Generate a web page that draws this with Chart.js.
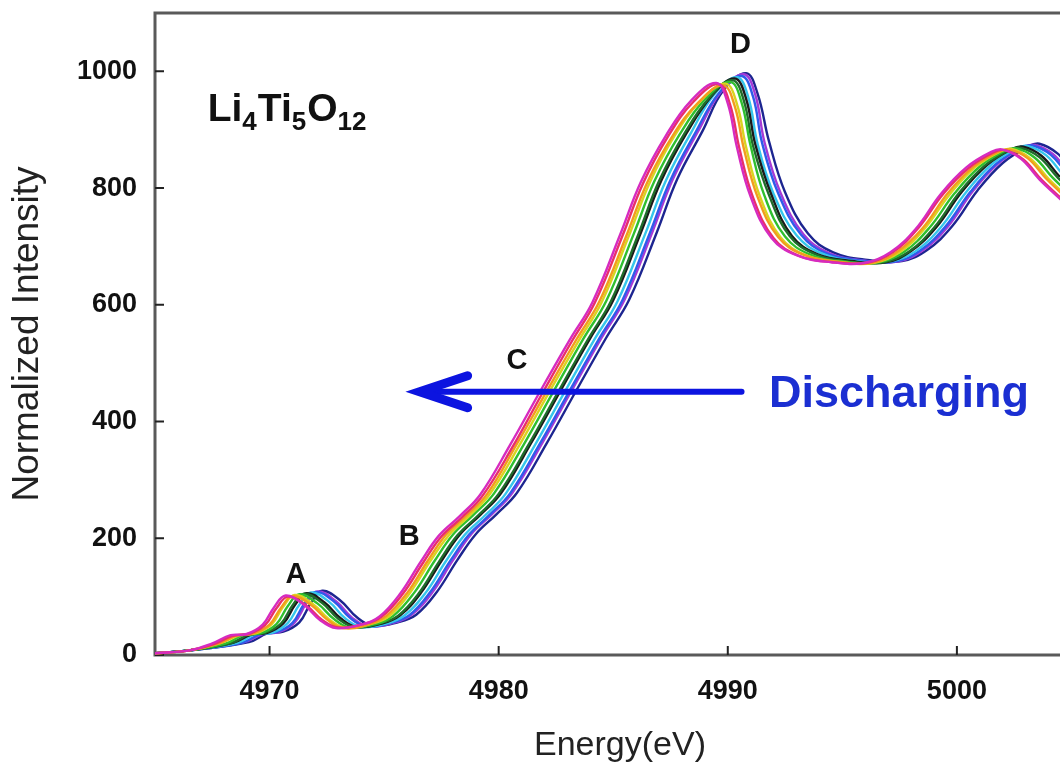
<!DOCTYPE html>
<html>
<head>
<meta charset="utf-8">
<script src="https://cdn.jsdelivr.net/npm/chart.js@4.4.1/dist/chart.umd.min.js"></script>
<style>
  html, body { margin: 0; padding: 0; background: #fff; overflow: hidden; }
  #wrap { width: 1060px; height: 772px; }
</style>
</head>
<body>
<div id="wrap"><canvas id="xanes"></canvas></div>
<script>
// Ti K-edge XANES of Li4Ti5O12 during discharge, 11 scans (left = most discharged)
const energy01 = [4964.0, 4965.0, 4966.5, 4967.5, 4968.3, 4969.0, 4969.7, 4970.2, 4970.7, 4971.5, 4972.2, 4972.9, 4974.0, 4974.8, 4975.7, 4976.6, 4977.4, 4978.3, 4979.2, 4980.5, 4981.8, 4983.1, 4984.1, 4985.3, 4986.2, 4987.3, 4988.4, 4989.5, 4990.0, 4990.4, 4991.0, 4991.9, 4993.0, 4994.5, 4996.0, 4997.1, 4998.2, 4999.3, 5000.4, 5001.5, 5002.0, 5002.8, 5003.6, 5004.6];
const energy02 = [4964.0, 4965.0, 4966.5, 4967.6, 4968.4, 4969.1, 4969.8, 4970.3, 4970.8, 4971.6, 4972.3, 4973.0, 4974.1, 4974.9, 4975.8, 4976.7, 4977.5, 4978.4, 4979.3, 4980.6, 4981.9, 4983.2, 4984.2, 4985.4, 4986.3, 4987.4, 4988.5, 4989.6, 4990.1, 4990.5, 4991.1, 4992.0, 4993.1, 4994.6, 4996.1, 4997.2, 4998.3, 4999.4, 5000.5, 5001.6, 5002.1, 5002.9, 5003.7, 5004.7];
const energy03 = [4964.0, 4965.0, 4966.5, 4967.8, 4968.6, 4969.3, 4970.0, 4970.5, 4971.0, 4971.8, 4972.5, 4973.2, 4974.3, 4975.1, 4976.0, 4976.9, 4977.7, 4978.6, 4979.5, 4980.8, 4982.1, 4983.4, 4984.4, 4985.6, 4986.5, 4987.6, 4988.7, 4989.8, 4990.3, 4990.7, 4991.3, 4992.2, 4993.3, 4994.8, 4996.3, 4997.4, 4998.5, 4999.6, 5000.7, 5001.8, 5002.3, 5003.1, 5003.9, 5004.9];
const energy04 = [4964.0, 4965.0, 4966.5, 4967.9, 4968.7, 4969.4, 4970.1, 4970.6, 4971.1, 4971.9, 4972.6, 4973.3, 4974.4, 4975.2, 4976.1, 4977.0, 4977.8, 4978.7, 4979.6, 4980.9, 4982.2, 4983.5, 4984.5, 4985.7, 4986.6, 4987.7, 4988.8, 4989.9, 4990.4, 4990.8, 4991.4, 4992.3, 4993.4, 4994.9, 4996.4, 4997.5, 4998.6, 4999.7, 5000.8, 5001.9, 5002.4, 5003.2, 5004.0, 5005.0];
const energy05 = [4964.0, 4965.0, 4966.5, 4968.1, 4968.9, 4969.6, 4970.3, 4970.8, 4971.3, 4972.1, 4972.8, 4973.5, 4974.6, 4975.4, 4976.3, 4977.2, 4978.0, 4978.9, 4979.8, 4981.1, 4982.4, 4983.7, 4984.7, 4985.9, 4986.8, 4987.9, 4989.0, 4990.1, 4990.6, 4991.0, 4991.6, 4992.5, 4993.6, 4995.1, 4996.6, 4997.7, 4998.8, 4999.9, 5001.0, 5002.1, 5002.6, 5003.4, 5004.2, 5005.2];
const energy06 = [4964.0, 4965.0, 4966.5, 4968.3, 4969.1, 4969.8, 4970.5, 4971.0, 4971.5, 4972.3, 4973.0, 4973.7, 4974.8, 4975.6, 4976.5, 4977.4, 4978.2, 4979.1, 4980.0, 4981.3, 4982.6, 4983.9, 4984.9, 4986.1, 4987.0, 4988.1, 4989.2, 4990.2, 4990.7, 4991.1, 4991.8, 4992.7, 4993.8, 4995.3, 4996.8, 4997.9, 4999.0, 5000.1, 5001.2, 5002.3, 5002.8, 5003.6, 5004.4, 5005.4];
const energy07 = [4964.0, 4965.0, 4966.5, 4968.4, 4969.2, 4969.9, 4970.6, 4971.1, 4971.6, 4972.4, 4973.1, 4973.8, 4974.9, 4975.7, 4976.6, 4977.5, 4978.3, 4979.2, 4980.1, 4981.4, 4982.7, 4984.0, 4985.0, 4986.2, 4987.1, 4988.2, 4989.3, 4990.3, 4990.8, 4991.2, 4991.9, 4992.8, 4993.9, 4995.4, 4996.9, 4998.0, 4999.1, 5000.2, 5001.3, 5002.4, 5002.9, 5003.7, 5004.5, 5005.5];
const energy08 = [4964.0, 4965.0, 4966.5, 4968.6, 4969.4, 4970.1, 4970.8, 4971.3, 4971.8, 4972.6, 4973.3, 4974.0, 4975.1, 4975.9, 4976.8, 4977.7, 4978.5, 4979.4, 4980.3, 4981.6, 4982.9, 4984.2, 4985.2, 4986.4, 4987.3, 4988.4, 4989.4, 4990.4, 4990.9, 4991.3, 4992.0, 4993.0, 4994.1, 4995.6, 4997.1, 4998.2, 4999.3, 5000.4, 5001.5, 5002.6, 5003.1, 5003.9, 5004.7, 5005.7];
const energy09 = [4964.0, 4965.0, 4966.5, 4968.8, 4969.6, 4970.3, 4971.0, 4971.5, 4972.0, 4972.8, 4973.5, 4974.2, 4975.3, 4976.1, 4977.0, 4977.9, 4978.7, 4979.6, 4980.5, 4981.8, 4983.1, 4984.4, 4985.4, 4986.6, 4987.5, 4988.6, 4989.6, 4990.6, 4991.1, 4991.5, 4992.2, 4993.2, 4994.3, 4995.8, 4997.3, 4998.4, 4999.5, 5000.6, 5001.7, 5002.8, 5003.3, 5004.1, 5004.9, 5005.9];
const energy10 = [4964.0, 4965.0, 4966.5, 4968.9, 4969.7, 4970.4, 4971.1, 4971.6, 4972.1, 4972.9, 4973.6, 4974.3, 4975.4, 4976.2, 4977.1, 4978.0, 4978.8, 4979.7, 4980.6, 4981.9, 4983.2, 4984.5, 4985.5, 4986.7, 4987.6, 4988.7, 4989.7, 4990.7, 4991.2, 4991.6, 4992.3, 4993.3, 4994.4, 4995.9, 4997.4, 4998.5, 4999.6, 5000.7, 5001.8, 5002.9, 5003.4, 5004.2, 5005.0, 5006.0];
const energy11 = [4964.0, 4965.0, 4966.5, 4969.1, 4969.9, 4970.6, 4971.3, 4971.8, 4972.3, 4973.1, 4973.8, 4974.5, 4975.6, 4976.4, 4977.3, 4978.2, 4979.0, 4979.9, 4980.8, 4982.1, 4983.4, 4984.7, 4985.7, 4986.9, 4987.8, 4988.9, 4989.8, 4990.8, 4991.3, 4991.8, 4992.5, 4993.5, 4994.6, 4996.1, 4997.6, 4998.7, 4999.8, 5000.9, 5002.0, 5003.1, 5003.6, 5004.4, 5005.2, 5006.2];

const intensity01 = [0, 3, 8, 20, 34, 36, 52, 82, 102, 86, 60, 46, 52, 66, 105, 160, 205, 238, 275, 360, 451, 540, 605, 720, 810, 890, 950, 980, 945, 870, 785, 715, 685, 673, 672, 690, 730, 790, 835, 862, 866, 850, 815, 778];
const intensity02 = [0, 3, 8, 19, 33, 36, 51, 80, 100, 85, 60, 47, 53, 66, 104, 158, 203, 236, 273, 356, 448, 538, 604, 718, 808, 889, 948, 978, 943, 869, 784, 714, 684, 673, 672, 690, 731, 790, 834, 861, 865, 849, 814, 777];
const intensity03 = [0, 3, 8, 20, 34, 37, 52, 81, 101, 86, 61, 46, 52, 67, 106, 161, 206, 239, 276, 362, 452, 541, 606, 721, 811, 890, 946, 976, 941, 868, 785, 716, 686, 674, 672, 691, 731, 791, 836, 862, 866, 851, 816, 779];
const intensity04 = [0, 3, 8, 21, 34, 37, 53, 83, 103, 87, 61, 47, 53, 66, 105, 160, 204, 238, 275, 359, 450, 539, 605, 720, 810, 891, 949, 979, 944, 870, 786, 716, 685, 673, 672, 690, 731, 790, 836, 863, 867, 851, 816, 779];
const intensity05 = [0, 3, 8, 20, 35, 37, 53, 84, 104, 88, 62, 47, 53, 67, 106, 161, 206, 240, 277, 361, 452, 542, 607, 722, 812, 892, 952, 982, 947, 872, 787, 717, 686, 674, 673, 691, 732, 791, 837, 864, 868, 852, 817, 780];
const intensity06 = [0, 3, 8, 20, 35, 38, 54, 85, 105, 89, 62, 48, 54, 67, 105, 160, 205, 239, 276, 360, 451, 541, 606, 721, 812, 893, 955, 985, 950, 873, 788, 718, 687, 674, 673, 691, 732, 792, 838, 865, 869, 853, 818, 781];
const intensity07 = [0, 3, 8, 21, 35, 38, 54, 85, 106, 90, 63, 48, 54, 68, 106, 161, 206, 240, 277, 362, 453, 543, 608, 723, 813, 894, 958, 988, 953, 875, 789, 718, 687, 675, 673, 692, 733, 793, 839, 867, 871, 855, 819, 782];
const intensity08 = [0, 3, 8, 21, 36, 38, 55, 86, 107, 91, 63, 48, 54, 68, 106, 161, 205, 239, 276, 361, 452, 542, 607, 722, 813, 895, 960, 990, 955, 876, 790, 719, 688, 675, 674, 692, 733, 793, 840, 868, 872, 856, 820, 783];
const intensity09 = [0, 3, 8, 21, 36, 39, 55, 87, 108, 92, 64, 49, 55, 68, 107, 162, 206, 240, 277, 362, 453, 543, 608, 723, 814, 896, 962, 992, 957, 877, 791, 720, 688, 676, 674, 693, 734, 794, 841, 869, 873, 857, 821, 784];
const intensity10 = [0, 3, 8, 22, 36, 39, 56, 88, 109, 92, 64, 49, 55, 69, 107, 162, 207, 241, 278, 363, 454, 544, 609, 724, 815, 897, 965, 995, 960, 879, 792, 721, 689, 676, 674, 693, 734, 795, 842, 870, 874, 858, 822, 785];
const intensity11 = [0, 3, 8, 22, 37, 40, 56, 89, 110, 93, 65, 50, 56, 69, 108, 163, 207, 241, 278, 363, 454, 544, 609, 724, 816, 898, 967, 997, 962, 880, 793, 722, 690, 677, 675, 694, 735, 796, 843, 871, 876, 859, 823, 786];

const scanEnergies = [energy01, energy02, energy03, energy04, energy05, energy06, energy07, energy08, energy09, energy10, energy11];
const scanIntensities = [intensity01, intensity02, intensity03, intensity04, intensity05, intensity06, intensity07, intensity08, intensity09, intensity10, intensity11];
const energyTicks = [4970, 4980, 4990, 5000];
const intensityTicks = [0, 200, 400, 600, 800, 1000];

const scanColors = ['#d62bc0', '#e8306a', '#f39c1e', '#d9d420', '#2fbf2f', '#1f6b2b', '#1a1a1a', '#35c6ea', '#2f5bea', '#a43ad6', '#1c2590'];

const FONT = '"Liberation Sans", Arial, Helvetica, sans-serif';

const datasets = scanEnergies.map((xs, k) => ({
  label: 'scan ' + (k + 1),
  data: xs.map((x, j) => ({ x: x, y: scanIntensities[k][j] })),
  borderColor: scanColors[k],
  borderWidth: 2.4,
  pointRadius: 0,
  tension: 0.4,
  fill: false
}));

const decorations = {
  id: 'decorations',
  beforeDatasetsDraw(chart) {
    const { ctx, chartArea: a, scales: { x, y } } = chart;
    ctx.save();
    ctx.strokeStyle = '#5a5a5a';
    ctx.lineWidth = 3;
    ctx.beginPath();
    ctx.moveTo(a.right + 5, a.top);
    ctx.lineTo(a.left, a.top);
    ctx.lineTo(a.left, a.bottom);
    ctx.lineTo(a.right + 5, a.bottom);
    ctx.stroke();
    ctx.strokeStyle = '#222';
    ctx.lineWidth = 2;
    ctx.beginPath();
    energyTicks.forEach(v => {
      const px = x.getPixelForValue(v);
      ctx.moveTo(px, a.bottom);
      ctx.lineTo(px, a.bottom - 9);
    });
    intensityTicks.forEach(v => {
      const py = y.getPixelForValue(v);
      ctx.moveTo(a.left, py);
      ctx.lineTo(a.left + 9, py);
    });
    ctx.stroke();
    ctx.restore();
  },
  afterDatasetsDraw(chart) {
    const { ctx, chartArea: a, scales: { x, y } } = chart;
    ctx.save();
    // peak letters
    ctx.fillStyle = '#111';
    ctx.font = 'bold 29px ' + FONT;
    ctx.textAlign = 'center';
    ctx.textBaseline = 'middle';
    [['A', 4971.15, 137], ['B', 4976.1, 202], ['C', 4980.8, 503], ['D', 4990.55, 1046]].forEach(([t, e, i]) => {
      ctx.fillText(t, x.getPixelForValue(e), y.getPixelForValue(i));
    });

    // compound formula with subscripts
    ctx.textAlign = 'left';
    ctx.textBaseline = 'alphabetic';
    let cx = x.getPixelForValue(4967.3);
    const base = y.getPixelForValue(935) + 12;
    [['Li', false], ['4', true], ['Ti', false], ['5', true], ['O', false], ['12', true]].forEach(([t, sub]) => {
      ctx.font = 'bold ' + (sub ? 26 : 39) + 'px ' + FONT;
      ctx.fillText(t, cx, sub ? base + 9 : base);
      cx += ctx.measureText(t).width + (sub ? 1 : 0);
    });

    // discharging arrow
    const ay = y.getPixelForValue(451);
    const tip = x.getPixelForValue(4976.55);
    const tail = x.getPixelForValue(4990.6);
    ctx.strokeStyle = '#0c14e0';
    ctx.lineCap = 'round';
    ctx.lineWidth = 6;
    ctx.beginPath();
    ctx.moveTo(tail, ay);
    ctx.lineTo(tip + 6, ay);
    ctx.stroke();
    ctx.lineWidth = 9;
    ctx.beginPath();
    ctx.moveTo(tip + 48, ay - 16);
    ctx.lineTo(tip, ay);
    ctx.lineTo(tip + 48, ay + 16);
    ctx.stroke();

    ctx.fillStyle = '#1b2fd2';
    ctx.font = 'bold 45px ' + FONT;
    ctx.textBaseline = 'middle';
    ctx.fillText('Discharging', x.getPixelForValue(4991.8), ay + 3);

    // axis titles
    ctx.fillStyle = '#222';
    ctx.font = '34px ' + FONT;
    ctx.textAlign = 'center';
    ctx.fillText('Energy(eV)', (a.left + a.right + 25) / 2, 746);
    ctx.translate(28, (a.top + a.bottom) / 2);
    ctx.rotate(-Math.PI / 2);
    ctx.font = '37px ' + FONT;
    ctx.fillText('Normalized Intensity', 0, 0);
    ctx.restore();
  }
};

new Chart(document.getElementById('xanes'), {
  type: 'line',
  data: { datasets: datasets },
  options: {
    responsive: true,
    maintainAspectRatio: false,
    animation: false,
    layout: { padding: { top: 13, right: 0, left: 0, bottom: 0 } },
    plugins: { legend: { display: false }, tooltip: { enabled: false } },
    scales: {
      x: {
        type: 'linear',
        min: 4965,
        max: 5004.5,
        grid: { display: false, drawTicks: false },
        border: { display: false },
        afterFit(scale) {
          scale.height = 117;
          scale.paddingLeft = 0;
          scale.paddingRight = 0;
        },
        afterBuildTicks(scale) { scale.ticks = energyTicks.map(v => ({ value: v })); },
        ticks: {
          padding: 20,
          color: '#111',
          font: { family: FONT, size: 27, weight: 'bold' },
          callback: v => String(v)
        }
      },
      y: {
        type: 'linear',
        min: 0,
        max: 1100,
        grid: { display: false, drawTicks: false },
        border: { display: false },
        afterFit(scale) {
          scale.width = 155;
          scale.paddingTop = 0;
          scale.paddingBottom = 0;
        },
        afterBuildTicks(scale) { scale.ticks = intensityTicks.map(v => ({ value: v })); },
        ticks: {
          padding: 18,
          color: '#111',
          font: { family: FONT, size: 27, weight: 'bold' },
          callback: v => String(v)
        }
      }
    }
  },
  plugins: [decorations]
});
</script>
</body>
</html>
